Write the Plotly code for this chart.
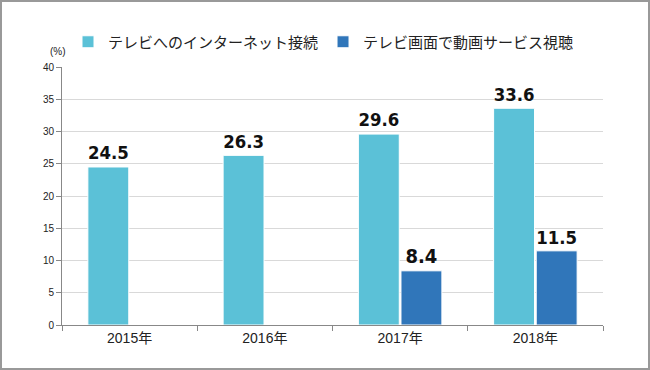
import plotly.graph_objects as go

years = ["2015年", "2016年", "2017年", "2018年"]
internet = [24.5, 26.3, 29.6, 33.6]
video = [None, None, 8.4, 11.5]
series_names = ["テレビへのインターネット接続", "テレビ画面で動画サービス視聴"]
label_sizes_internet = [20, 20, 20, 20]
label_sizes_video = [20, 20, 20, 26]

W, H = 650, 370
L, R, T, B = 62, 47, 67, 45
pw, ph = W - L - R, H - T - B

label_font = "Liberation Sans Narrow, DejaVu Sans Condensed, Roboto, sans-serif"

fig = go.Figure()
fig.add_trace(go.Bar(
    x=years, y=internet, name=series_names[0],
    marker=dict(color="#5BC1D7", line=dict(color="white", width=1)),
    text=[f"{v:.1f}" for v in internet], textposition="outside",
    textfont=dict(family=label_font, size=label_sizes_internet, color="#111", weight="bold"),
    cliponaxis=False,
))
fig.add_trace(go.Bar(
    x=years, y=video, name=series_names[1],
    marker=dict(color="#3076BA", line=dict(color="white", width=1)),
    text=[f"{v:.1f}" if v is not None else "" for v in video], textposition="outside",
    textfont=dict(family=label_font, size=label_sizes_video, color="#111", weight="bold"),
    cliponaxis=False,
))

fig.update_layout(
    width=W, height=H,
    margin=dict(l=L, r=R, t=T, b=B, pad=0, autoexpand=False),
    paper_bgcolor="white", plot_bgcolor="white",
    barmode="group", bargap=0.37, bargroupgap=0.04,
    font=dict(family="Noto Sans CJK JP, sans-serif", color="#222"),
    showlegend=True,
    legend=dict(orientation="h", x=(68 - L) / pw, xanchor="left",
                y=(T + ph - 42) / ph, yanchor="middle",
                font=dict(size=15, family="Noto Sans CJK JP, sans-serif", color="#222"),
                itemwidth=30, traceorder="normal", bgcolor="rgba(0,0,0,0)"),
    yaxis=dict(range=[0, 40], dtick=5, showgrid=True, gridcolor="#D9D9D9", gridwidth=1,
               showline=True, linecolor="#888", linewidth=1,
               ticks="outside", ticklen=5, tickcolor="#888",
               tickfont=dict(size=10, family="Liberation Sans, Arial, sans-serif", color="#222"),
               zeroline=False, fixedrange=True),
    xaxis=dict(showline=True, linecolor="#888", linewidth=1,
               ticks="outside", ticklen=5, tickcolor="#888", tickson="boundaries",
               tickfont=dict(size=14, family="Liberation Sans, Noto Sans CJK JP, sans-serif", color="#222"),
               fixedrange=True),
    annotations=[dict(text="(%)", xref="paper", yref="paper",
                      x=(58 - L) / pw, y=(T + ph - 52) / ph, xanchor="center", yanchor="middle",
                      showarrow=False, font=dict(size=10, family="Liberation Sans, Arial, sans-serif", color="#222"))],
    shapes=[dict(type="rect", xref="paper", yref="paper",
                 x0=(1 - L) / pw, x1=(W - 1 - L) / pw,
                 y0=(T + ph - (H - 1)) / ph, y1=(T + ph - 1) / ph,
                 line=dict(color="#999", width=2), layer="below")],
)

fig.write_html("out.html", config={"displayModeBar": False},
               post_script="document.body.style.margin='0';document.body.style.overflow='hidden';")
